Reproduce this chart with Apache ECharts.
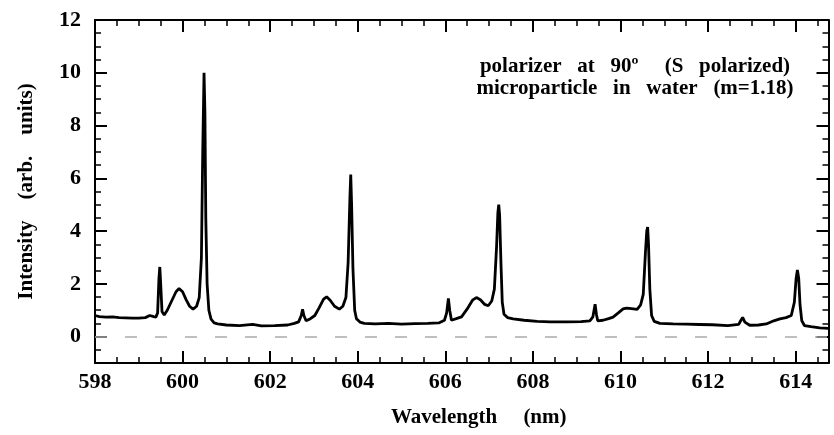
<!DOCTYPE html>
<html>
<head>
<meta charset="utf-8">
<script src="https://cdn.jsdelivr.net/npm/echarts@6/dist/echarts.min.js"></script>
<style>
html, body { margin: 0; padding: 0; background: #fff; }
#chart { width: 834px; height: 435px; }
</style>
</head>
<body>
<div id="chart"></div>
<script>
// spectrum (nm, arb. units)
var wavelength = [
    598.00, 598.10, 598.25, 598.40, 598.55, 598.70, 598.85, 599.00, 599.15, 599.25,
    599.29, 599.34, 599.39, 599.43, 599.46, 599.48, 599.50, 599.53, 599.58, 599.65,
    599.75, 599.85, 599.92, 600.00, 600.08, 600.16, 600.24, 600.32, 600.38, 600.43,
    600.46, 600.49, 600.51, 600.53, 600.56, 600.60, 600.65, 600.72, 600.80, 601.00,
    601.30, 601.60, 601.80, 602.10, 602.40, 602.55, 602.65, 602.71, 602.74, 602.77,
    602.82, 602.92, 603.02, 603.12, 603.22, 603.29, 603.37, 603.47, 603.58, 603.66,
    603.73, 603.78, 603.82, 603.84, 603.86, 603.89, 603.93, 603.97, 604.05, 604.15,
    604.40, 604.70, 605.00, 605.30, 605.60, 605.85, 605.98, 606.03, 606.07, 606.10,
    606.14, 606.25, 606.37, 606.50, 606.62, 606.71, 606.80, 606.90, 606.98, 607.06,
    607.12, 607.17, 607.20, 607.22, 607.24, 607.27, 607.30, 607.34, 607.42, 607.55,
    607.80, 608.10, 608.40, 608.80, 609.10, 609.30, 609.37, 609.42, 609.45, 609.48,
    609.60, 609.73, 609.83, 609.95, 610.06, 610.14, 610.25, 610.38, 610.46, 610.52,
    610.57, 610.60, 610.62, 610.64, 610.67, 610.71, 610.77, 610.90, 611.20, 611.50,
    611.80, 612.10, 612.45, 612.70, 612.75, 612.79, 612.84, 612.95, 613.15, 613.33,
    613.50, 613.64, 613.78, 613.90, 613.97, 614.01, 614.04, 614.07, 614.10, 614.14,
    614.20, 614.35, 614.55, 614.75
];
var intensity = [
    0.80, 0.76, 0.74, 0.75, 0.72, 0.71, 0.70, 0.70, 0.72, 0.80,
    0.87, 0.76, 0.74, 0.90, 2.20, 2.64, 2.00, 0.95, 0.82, 1.00,
    1.35, 1.70, 1.82, 1.70, 1.40, 1.15, 1.04, 1.15, 1.48, 3.00,
    7.00, 10.00, 8.50, 4.50, 2.00, 1.00, 0.66, 0.52, 0.48, 0.44,
    0.42, 0.46, 0.41, 0.42, 0.44, 0.50, 0.56, 0.80, 1.04, 0.80,
    0.60, 0.68, 0.80, 1.10, 1.42, 1.51, 1.38, 1.15, 1.04, 1.15,
    1.48, 2.80, 5.20, 6.14, 5.00, 2.60, 1.00, 0.68, 0.55, 0.50,
    0.48, 0.50, 0.47, 0.49, 0.50, 0.52, 0.62, 0.90, 1.45, 1.00,
    0.62, 0.68, 0.75, 1.05, 1.38, 1.48, 1.40, 1.22, 1.17, 1.35,
    1.80, 3.40, 4.70, 5.00, 4.60, 2.80, 1.30, 0.85, 0.72, 0.67,
    0.62, 0.58, 0.56, 0.56, 0.57, 0.60, 0.75, 1.23, 0.85, 0.60,
    0.62, 0.68, 0.74, 0.90, 1.05, 1.08, 1.06, 1.03, 1.20, 1.60,
    3.20, 4.00, 4.15, 3.50, 1.80, 0.80, 0.58, 0.50, 0.48, 0.47,
    0.46, 0.45, 0.42, 0.46, 0.62, 0.73, 0.55, 0.43, 0.44, 0.48,
    0.60, 0.67, 0.72, 0.80, 1.30, 2.20, 2.53, 2.20, 1.20, 0.60,
    0.42, 0.38, 0.33, 0.31
];
var xTickLabels = [598, 600, 602, 604, 606, 608, 610, 612, 614];
var yTickLabels = [0, 2, 4, 6, 8, 10, 12];

var serif = '"Liberation Serif", "Times New Roman", serif';

var pts = [];
for (var i = 0; i < wavelength.length; i++) {
    pts.push([wavelength[i], intensity[i]]);
}

function pickLabel(list) {
    return function (v) {
        var r = Math.round(v);
        if (Math.abs(v - r) < 1e-6 && list.indexOf(r) >= 0) return String(r);
        return '';
    };
}

// short ticks every 0.5 (carry the axis line), long ticks every 2
function xAx(pos, interval, len, withLine, withLabel) {
    return {
        type: 'value', position: pos, min: 598, max: 614.75, interval: interval,
        axisLine: { show: withLine, onZero: false, lineStyle: { color: '#000', width: 2 } },
        axisTick: { show: true, inside: true, length: len, lineStyle: { color: '#000', width: len > 8 ? 2 : 1.5 } },
        axisLabel: {
            show: withLabel, showMaxLabel: false, margin: 8,
            formatter: pickLabel(xTickLabels),
            color: '#000', fontFamily: serif, fontWeight: 'bold', fontSize: 22
        },
        splitLine: { show: false }
    };
}
// the long-tick y axes are inverted so their ticks start from 12 and fall on even values
function yAx(pos, inverse, withLine, withLabel) {
    return {
        type: 'value', position: pos, inverse: inverse,
        min: inverse ? 0 : -1, max: inverse ? 13 : 12, interval: inverse ? 2 : 0.5,
        axisLine: { show: withLine, onZero: false, lineStyle: { color: '#000', width: 2 } },
        axisTick: { show: true, inside: true, length: inverse ? 12 : 6, lineStyle: { color: '#000', width: inverse ? 2 : 1.5 } },
        axisLabel: {
            show: withLabel, margin: 14,
            formatter: pickLabel(yTickLabels),
            color: '#000', fontFamily: serif, fontWeight: 'bold', fontSize: 22
        },
        splitLine: { show: false }
    };
}

var xMain = xAx('bottom', 0.5, 6, true, true);
xMain.name = 'Wavelength     (nm)';
xMain.nameLocation = 'middle';
xMain.nameGap = 44;
xMain.nameTextStyle = { color: '#000', fontFamily: serif, fontWeight: 'bold', fontSize: 21, padding: [0, 0, 0, 34] };

var yMain = yAx('left', false, true, true);
yMain.name = 'Intensity    (arb.    units)';
yMain.nameLocation = 'middle';
yMain.nameGap = 58;
yMain.nameTextStyle = { color: '#000', fontFamily: serif, fontWeight: 'bold', fontSize: 21 };

var option = {
    backgroundColor: '#fff',
    animation: false,
    grid: { left: 95, right: 5.5, top: 20, bottom: 72 },
    xAxis: [
        xMain,
        xAx('bottom', 2, 12, false, false),
        xAx('top', 0.5, 6, true, false),
        xAx('top', 2, 12, false, false)
    ],
    yAxis: [
        yMain,
        yAx('left', true, false, false),
        yAx('right', false, true, false),
        yAx('right', true, false, false)
    ],
    graphic: [{
        type: 'text', x: 635, y: 56,
        style: {
            text: 'polarizer   at   90º     (S   polarized)\nmicroparticle   in   water   (m=1.18)',
            font: 'bold 21px ' + serif,
            fill: '#000', textAlign: 'center', textVerticalAlign: 'top', lineHeight: 22
        }
    }],
    series: [{
        type: 'line',
        data: pts,
        xAxisIndex: 0, yAxisIndex: 0,
        showSymbol: false,
        lineStyle: { color: '#000', width: 2.8 },
        markLine: {
            silent: true, symbol: 'none', label: { show: false },
            lineStyle: { color: '#aaa', width: 1.5, type: [12, 18] },
            data: [{ yAxis: 0 }]
        }
    }]
};

var myChart = echarts.init(document.getElementById('chart'));
myChart.setOption(option);
</script>
</body>
</html>
